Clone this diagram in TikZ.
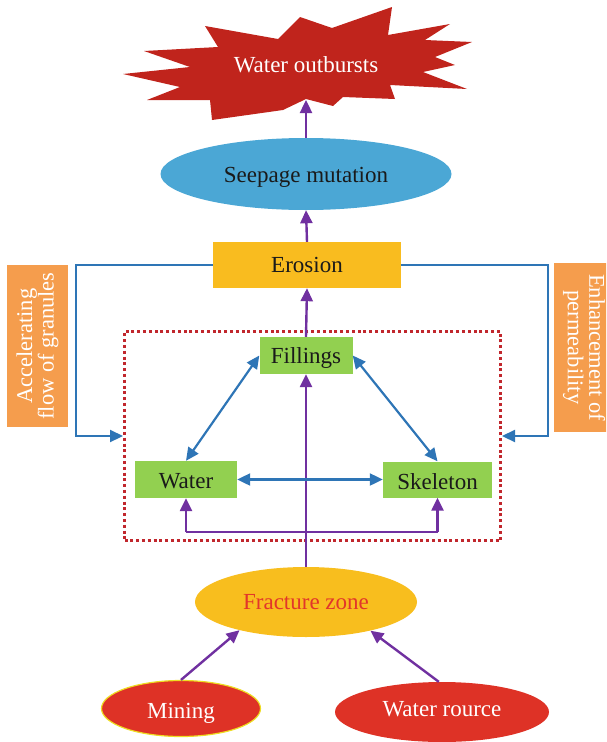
\documentclass[tikz,border=0pt]{standalone}
\usepackage{fontspec}
\setmainfont{Liberation Serif}
\usetikzlibrary{shapes.geometric,arrows.meta}
\definecolor{burstred}{HTML}{C0241C}
\definecolor{seepblue}{HTML}{4BA7D5}
\definecolor{erosionyel}{HTML}{F9BC1F}
\definecolor{boxgreen}{HTML}{92D050}
\definecolor{fracyel}{HTML}{F8BE1E}
\definecolor{fractext}{HTML}{E2362A}
\definecolor{minered}{HTML}{DE3226}
\definecolor{mineedge}{HTML}{EEDD22}
\definecolor{sideorange}{HTML}{F59D4D}
\definecolor{arrpurple}{HTML}{7030A0}
\definecolor{arrblue}{HTML}{2E75B6}
\definecolor{dotred}{HTML}{C1272D}
\definecolor{darktext}{HTML}{1A1A1A}
\newcommand{\shifttext}[2]{\raisebox{#1}[\height][\depth]{#2}}
\tikzset{
  every node/.style={font=\fontsize{23}{22}\selectfont, inner sep=0pt},
  greenbox/.style={rectangle, fill=boxgreen, text=darktext},
  parrow/.style={draw=arrpurple, line width=2.4pt, -{Triangle[length=13pt,width=12pt]}},
  pline/.style={draw=arrpurple, line width=2.4pt},
  barrow/.style={draw=arrblue, line width=2.2pt, -{Triangle[length=13pt,width=12pt]}},
  bdarrow/.style={draw=arrblue, line width=2.2pt, {Triangle[length=13pt,width=12pt]}-{Triangle[length=13pt,width=12pt]}},
  sidebox/.style={rectangle, fill=sideorange, text=white, align=center, font=\fontsize{22.5}{21.5}\selectfont},
}
\begin{document}
\begin{tikzpicture}[x=1pt,y=-1pt]
\useasboundingbox (0,0) rectangle (606,742);
\begin{scope}
\clip (0,0) rectangle (606,742);
% starburst
\fill[burstred] (144,51) -- (218,47) -- (205,26) -- (278,39) -- (300,17) -- (332,28) -- (392,7) -- (388,35)
  -- (450,24) -- (425,40) -- (472,42) -- (435,57) -- (455,65) -- (423,72) -- (467,89) -- (390,85)
  -- (395,99) -- (343,97) -- (333,106) -- (306,99) -- (283,110) -- (212,120) -- (210,100) -- (147,100)
  -- (180,87) -- (123,74) -- (190,67) -- cycle;
\node[text=white] (burst) at (306,65) {Water outbursts};
\coordinate (burstin) at (306,100);

\node[ellipse, fill=seepblue, text=darktext, minimum width=291, minimum height=72] (seep) at (306,174) {\shifttext{-3pt}{Seepage mutation}};
\node[rectangle, fill=erosionyel, text=darktext, minimum width=188, minimum height=46] (ero) at (307,265) {Erosion};

\node[rectangle, draw=dotred, line width=3pt, dash pattern=on 3pt off 2.8pt, minimum width=376, minimum height=209] (core) at (312.5,436) {};

\node[greenbox, minimum width=93, minimum height=37] (fill) at (306,355.5) {\shifttext{-2pt}{Fillings}};
\node[greenbox, minimum width=102, minimum height=37] (water) at (186,479.5) {\shifttext{-2pt}{Water}};
\node[greenbox, minimum width=109, minimum height=36] (skel) at (437.5,479.5) {\shifttext{-2pt}{Skeleton}};

\node[ellipse, fill=fracyel, text=fractext, minimum width=222, minimum height=70] (frac) at (306,602) {Fracture zone};
\node[ellipse, fill=minered, draw=mineedge, line width=1.2pt, text=white, minimum width=159, minimum height=56] (mine) at (181,708.5) {\shifttext{-5pt}{Mining}};
\node[ellipse, fill=minered, text=white, minimum width=214, minimum height=60] (wr) at (442,712) {\shifttext{3pt}{Water rource}};

\node[sidebox, rotate=90, minimum width=162, minimum height=61] (left) at (37.5,346) {Accelerating\\flow of granules};
\fill[sideorange] (554,263) rectangle (620,432);
\node[sidebox, fill=none, rotate=-90] (right) at (584,347.5) {Enhancement of\\permeability};

% purple arrows
\draw[parrow] (seep.north) -- (burstin);
\draw[parrow] (ero.north) -- (seep.south);
\draw[parrow] (fill.north) -- (ero.south);
\draw[parrow] (frac.north) -- (fill.south);
\coordinate (bl) at (186,532);
\coordinate (br) at (437.5,532);
\draw[pline] (bl) -- (br);
\draw[parrow] (bl) -- (water.south);
\draw[parrow] (br) -- (skel.south);
\draw[parrow] (mine.north) -- (frac.203);
\draw[parrow] (wr.96) -- (frac.-24);

% blue arrows
\draw[bdarrow] (fill.west) -- (water.north);
\draw[bdarrow] (fill.east) -- (skel.north);
\draw[bdarrow] (water.east) -- (skel.west);
\coordinate (lc) at (76,436);
\coordinate (rc) at (548,436);
\draw[barrow] (ero.west) -| (lc) -- (core.west);
\draw[barrow] (ero.east) -| (rc) -- (core.east);
\end{scope}
\end{tikzpicture}
\end{document}
